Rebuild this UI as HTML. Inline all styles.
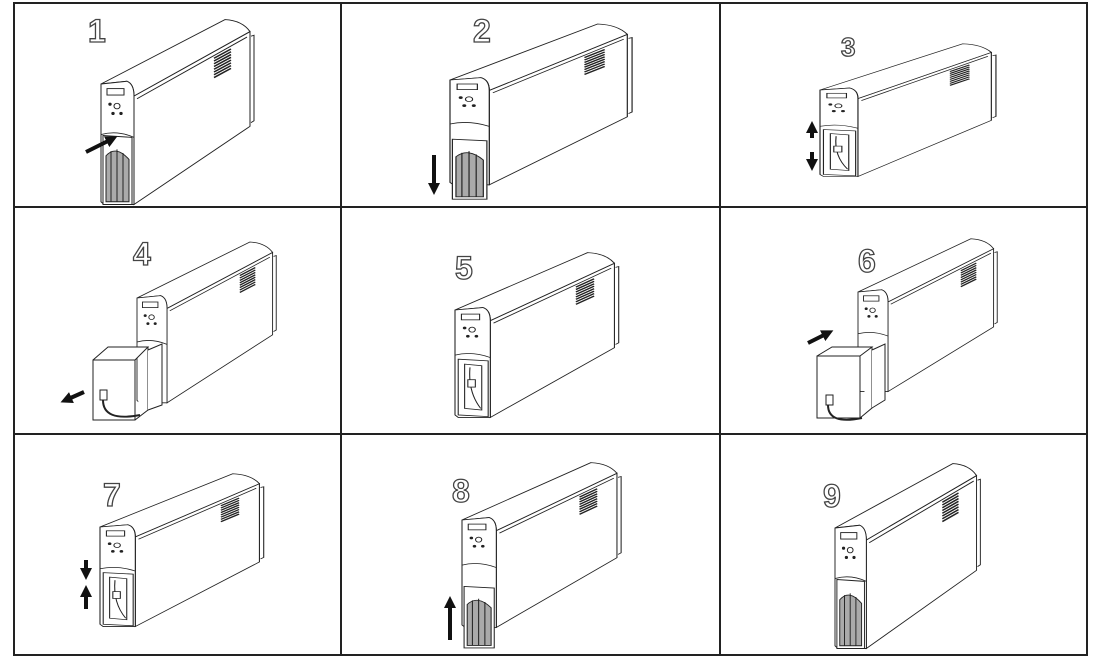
<!DOCTYPE html>
<html><head><meta charset="utf-8"><style>
html,body{margin:0;padding:0;background:#fff;}
svg{display:block;}
text{font-family:"Liberation Sans",sans-serif;font-size:32px;font-weight:bold;fill:#fff;stroke:#444;stroke-width:1.3;}
.u *{vector-effect:non-scaling-stroke;}
</style></head><body>
<svg width="1094" height="666" viewBox="0 0 1094 666">
<defs>
<g id="ups" fill="#fff" stroke="#222" stroke-width="1">
  <path d="M33,13 L149,-57 L149,46 L33,131 Z"/>
  <path d="M0,0 L124,-70 Q141,-69 149,-57 L33,13 Q33,0 26,-3 Z"/>
  <path d="M0,0 L26,-3 Q33,0 33,13 L33,131 L3,131 L0,128 Z"/>
  <path d="M150,-52 L153,-53 L153,40 L150,42" fill="none"/>
  <line x1="36" y1="16" x2="146" y2="-51"/>
  <rect x="6" y="5" width="17" height="7"/>
  <circle cx="16" cy="24" r="3"/>
  <circle cx="9" cy="22" r="1.2" fill="#222"/>
  <circle cx="12" cy="32" r="1.2" fill="#222"/>
  <circle cx="20" cy="32" r="1.2" fill="#222"/>
  <path d="M0,55 Q16,50 33,58" fill="none"/>
  <g stroke-width="1.6">
  <line x1="113" y1="-28" x2="130" y2="-38"/><line x1="113" y1="-25" x2="130" y2="-35"/>
  <line x1="113" y1="-22" x2="130" y2="-32"/><line x1="113" y1="-19" x2="130" y2="-29"/>
  <line x1="113" y1="-16" x2="130" y2="-26"/><line x1="113" y1="-13" x2="130" y2="-23"/>
  <line x1="113" y1="-10" x2="130" y2="-20"/><line x1="113" y1="-7" x2="130" y2="-17"/>
  </g>
</g>
<g id="grill" fill="#fff" stroke="#222" stroke-width="1">
  <path d="M2,131 L2,56 L31,58 L31,131 Z"/>
  <path d="M5,128 L5,78 Q15,66 28,82 L28,128 Z" fill="#aaa"/>
  <line x1="10" y1="73" x2="10" y2="128"/><line x1="16" y1="71" x2="16" y2="128"/><line x1="22" y1="75" x2="22" y2="128"/>
</g>
<g id="open" fill="#fff" stroke="#222">
  <path d="M3,60 L31,62 L31,130 L3,128 Z"/>
  <path d="M9,66 L25,68 L25,122 L9,120 Z" fill="none"/>
  <path d="M14,70 Q12,100 24,120" fill="none"/>
  <rect x="12" y="85" width="7" height="9"/>
</g>
<marker id="ah" viewBox="0 0 10 10" refX="5" refY="5" markerWidth="3" markerHeight="3" orient="auto"><path d="M0,0 L10,5 L0,10 Z" fill="#111"/></marker>
</defs>
<g fill="none" stroke="#222" stroke-width="2">
<rect x="14" y="3" width="1073" height="652"/>
<line x1="341" y1="3" x2="341" y2="655"/><line x1="720" y1="3" x2="720" y2="655"/>
<line x1="14" y1="207" x2="1087" y2="207"/><line x1="14" y1="434" x2="1087" y2="434"/>
</g>
<text x="88" y="42">1</text>
<g class="u" transform="translate(101,84) scale(1,0.92)"><use href="#ups"/><use href="#grill"/></g>
<text x="473" y="42">2</text>
<g class="u" transform="translate(450,80) scale(1.19,0.8)"><use href="#ups"/><use href="#grill" transform="translate(0,18)"/></g>
<text x="841" y="56" style="font-size:26px">3</text>
<g class="u" transform="translate(820,90) scale(1.15,0.66)"><use href="#ups"/><use href="#open"/></g>
<text x="133" y="265">4</text>
<g class="u" transform="translate(137,298) scale(0.91,0.8)"><use href="#ups"/></g>
<path d="M93,360 L135,360 L135,420 L93,420 Z M93,360 L108,347 L148,347 L135,360 M135,420 L148,410 L148,347" fill="#fff" stroke="#222"/>
<path d="M148,350 L162,344 L162,405 L148,410" fill="#fff" stroke="#222"/>
<rect x="100" y="390" width="7" height="10" fill="#fff" stroke="#222"/>
<path d="M103,400 Q103,422 140,415" fill="none" stroke="#222" stroke-width="2"/>
<text x="455" y="279">5</text>
<g class="u" transform="translate(455,310) scale(1.07,0.82)"><use href="#ups"/><use href="#open"/></g>
<text x="858" y="272">6</text>
<g class="u" transform="translate(858,292) scale(0.91,0.76)"><use href="#ups"/></g>
<path d="M817,356 L860,356 L860,418 L817,418 Z M817,356 L832,347 L872,347 L860,356 M860,418 L872,408 L872,347" fill="#fff" stroke="#222"/>
<path d="M872,350 L885,344 L885,400 L872,408" fill="#fff" stroke="#222"/>
<rect x="826" y="395" width="7" height="10" fill="#fff" stroke="#222"/>
<path d="M828,405 Q828,425 862,418" fill="none" stroke="#222" stroke-width="2"/>
<text x="103" y="506">7</text>
<g class="u" transform="translate(100,527) scale(1.07,0.76)"><use href="#ups"/><use href="#open"/></g>
<text x="452" y="502">8</text>
<g class="u" transform="translate(462,520) scale(1.04,0.82)"><use href="#ups"/><use href="#grill" transform="translate(0,25)"/></g>
<text x="823" y="507">9</text>
<g class="u" transform="translate(835,528) scale(0.95,0.92)"><use href="#ups"/><use href="#grill"/></g>
<g stroke="#111" stroke-width="4" marker-end="url(#ah)">
<line x1="86" y1="152" x2="112" y2="139"/>
<line x1="434" y1="155" x2="434" y2="189"/>
<line x1="812" y1="138" x2="812" y2="127"/><line x1="812" y1="152" x2="812" y2="165"/>
<line x1="84" y1="392" x2="66" y2="400"/>
<line x1="808" y1="343" x2="828" y2="333"/>
<line x1="86" y1="560" x2="86" y2="574"/><line x1="86" y1="609" x2="86" y2="591"/>
<line x1="450" y1="640" x2="450" y2="602"/>
</g>
</svg>
</body></html>
